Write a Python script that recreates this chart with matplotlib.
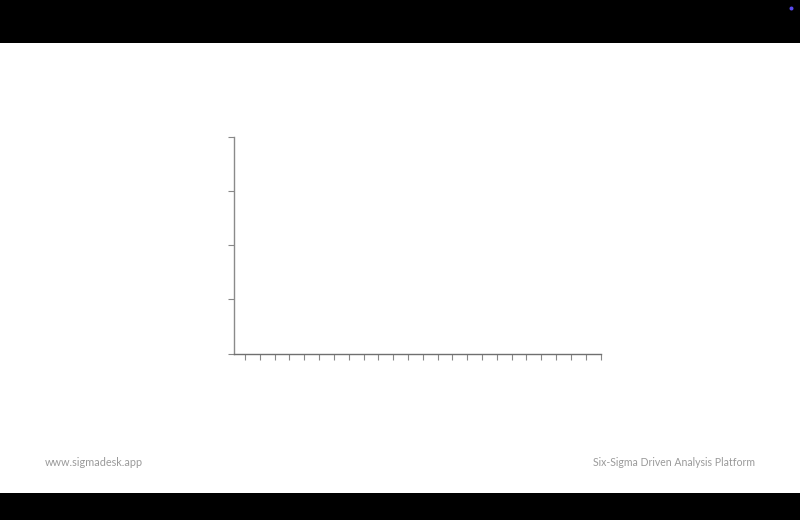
import matplotlib
matplotlib.use("Agg")
import matplotlib.pyplot as plt
from matplotlib.patches import Rectangle, Ellipse

# Data (chart has no plotted marks; only empty axes with ticks)
x_categories = list(range(25))
x_tick_labels = [""] * 25
y_ticks = [0, 1, 2, 3, 4]
y_tick_labels = [""] * 5
footer_left = "www.sigmadesk.app"
footer_right = "Six-Sigma Driven Analysis Platform"

W, H = 800, 520
fig = plt.figure(figsize=(W / 100, H / 100), dpi=100)
fig.patch.set_facecolor("white")

# top and bottom black bars
fig.add_artist(Rectangle((0, 1 - 43 / H), 1, 43 / H, transform=fig.transFigure,
                         facecolor="black", edgecolor="none", zorder=0))
fig.add_artist(Rectangle((0, 0), 1, 27 / H, transform=fig.transFigure,
                         facecolor="black", edgecolor="none", zorder=0))
# small purple dot in the top-right corner
fig.add_artist(Ellipse((791.5 / W, 1 - 8.5 / H), 4.0 / W, 4.0 / H, transform=fig.transFigure,
                       facecolor="#5a4bf0", edgecolor="none", zorder=1))

ax = fig.add_axes([233.5 / W, (H - 353.5) / H, (600.5 - 233.5) / W, 216.5 / H])
ax.set_facecolor("none")
ax.set_xlim(-0.78, 24)
ax.set_ylim(0, 4)
ax.set_xticks(x_categories)
ax.set_xticklabels(x_tick_labels)
ax.set_yticks(y_ticks)
ax.set_yticklabels(y_tick_labels)
for s in ["top", "right"]:
    ax.spines[s].set_visible(False)
ax.spines["left"].set_color("#8a8a8a")
ax.spines["bottom"].set_color("#6f6f6f")
for s in ["left", "bottom"]:
    ax.spines[s].set_linewidth(1.0)
ax.tick_params(axis="both", direction="out", length=4, width=0.8, color="#888888")

fig.text(45 / W, 1 - 462.5 / H, footer_left, ha="left", va="center",
         fontsize=7.8, color="#9a9a9a", family=["Lato", "DejaVu Sans"])
fig.text(755 / W, 1 - 462.5 / H, footer_right, ha="right", va="center",
         fontsize=7.6, color="#9a9a9a", family=["Lato", "DejaVu Sans"])

fig.savefig("out.png", dpi=100)
